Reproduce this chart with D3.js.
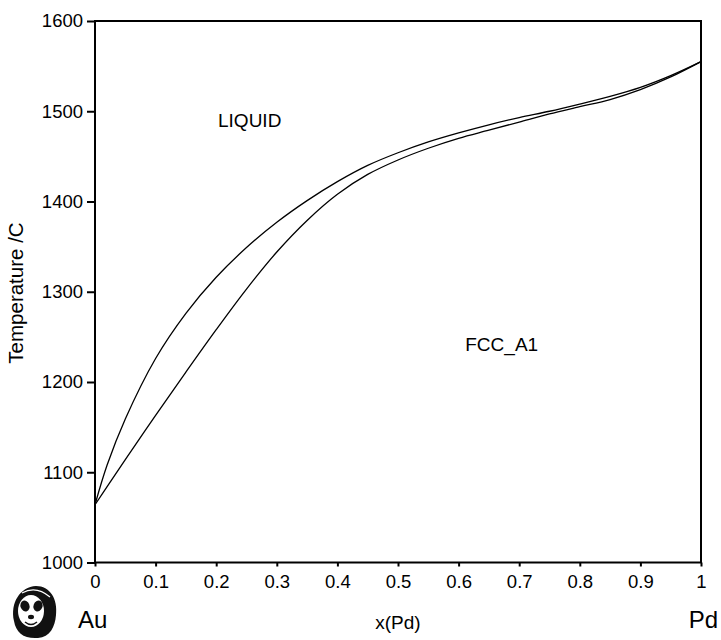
<!DOCTYPE html>
<html>
<head>
<meta charset="utf-8">
<script src="https://cdn.jsdelivr.net/npm/d3@7/dist/d3.min.js"></script>
<style>
  html, body { margin: 0; padding: 0; background: #fff; }
  svg { display: block; font-family: "Liberation Sans", Arial, sans-serif; }
</style>
</head>
<body>
<svg id="chart" width="721" height="640"></svg>
<script>
// Au–Pd phase diagram: liquidus and solidus (mole fraction Pd vs temperature)
const xPd = [0, 0.02, 0.05, 0.1, 0.15, 0.2, 0.25, 0.3, 0.35, 0.4, 0.45, 0.5,
             0.55, 0.6, 0.65, 0.7, 0.75, 0.8, 0.85, 0.9, 0.95, 1.0];
const liquidus = [1064, 1108, 1159, 1226, 1276, 1316, 1349, 1377, 1401, 1422, 1440, 1454,
                  1466, 1476, 1485, 1493, 1500, 1508, 1516.5, 1526.5, 1539.5, 1555];
const solidus  = [1064, 1084, 1114, 1163, 1211, 1258, 1303, 1344, 1379, 1408, 1430, 1446,
                  1459, 1470, 1479, 1488, 1497, 1505, 1513, 1524, 1538, 1555];
const xTicks = [0, 0.1, 0.2, 0.3, 0.4, 0.5, 0.6, 0.7, 0.8, 0.9, 1];
const yTicks = [1000, 1100, 1200, 1300, 1400, 1500, 1600];
const phaseLabels = [
  { text: "LIQUID", x: 0.203, t: 1483 },
  { text: "FCC_A1", x: 0.611, t: 1234 }
];

const svg = d3.select("#chart");
const plot = { left: 95, right: 701, top: 21, bottom: 562.5 };

const x = d3.scaleLinear().domain([0, 1]).range([plot.left, plot.right]);
const y = d3.scaleLinear().domain([1000, 1600]).range([plot.bottom, plot.top]);

// frame
svg.append("rect")
  .attr("x", plot.left).attr("y", plot.top)
  .attr("width", plot.right - plot.left).attr("height", plot.bottom - plot.top)
  .attr("fill", "none").attr("stroke", "#000").attr("stroke-width", 2);

// axes
const xAxis = d3.axisBottom(x).tickValues(xTicks)
  .tickFormat(d => String(d)).tickSize(4).tickPadding(8);
const gx = svg.append("g").attr("transform", `translate(0,${plot.bottom})`).call(xAxis);
gx.select(".domain").remove();
gx.selectAll(".tick line").attr("stroke-width", 2);
gx.selectAll("text").attr("font-size", 18.5).attr("fill", "#000")
  .attr("font-family", "Liberation Sans, Arial, sans-serif");

const yAxis = d3.axisLeft(y).tickValues(yTicks).tickFormat(d3.format("d"))
  .tickSize(8).tickPadding(4);
const gy = svg.append("g").attr("transform", `translate(${plot.left},0)`).call(yAxis);
gy.select(".domain").remove();
gy.selectAll(".tick line").attr("stroke-width", 2);
gy.selectAll("text").attr("font-size", 18.5).attr("fill", "#000")
  .attr("font-family", "Liberation Sans, Arial, sans-serif");

// phase boundaries
const line = d3.line().curve(d3.curveCatmullRom.alpha(0.5))
  .x(d => x(d[0])).y(d => y(d[1]));
[liquidus, solidus].forEach(series => {
  svg.append("path")
    .datum(xPd.map((v, i) => [v, series[i]]))
    .attr("d", line)
    .attr("fill", "none").attr("stroke", "#000").attr("stroke-width", 1.3);
});

// phase region labels
svg.selectAll("text.phase").data(phaseLabels).enter().append("text")
  .attr("class", "phase")
  .attr("x", d => x(d.x)).attr("y", d => y(d.t))
  .attr("font-size", 19).attr("fill", "#000")
  .text(d => d.text);

// axis titles and components
svg.append("text").attr("x", 398).attr("y", 629)
  .attr("text-anchor", "middle").attr("font-size", 19).text("x(Pd)");
svg.append("text")
  .attr("transform", "translate(23,293) rotate(-90)")
  .attr("text-anchor", "middle").attr("font-size", 20.5).text("Temperature /C");
svg.append("text").attr("x", 78).attr("y", 628)
  .attr("font-size", 24).text("Au");
svg.append("text").attr("x", 718).attr("y", 628)
  .attr("text-anchor", "end").attr("font-size", 24).text("Pd");

// panda logo
const logo = svg.append("g").attr("transform", "translate(34,611)");
logo.append("path")
  .attr("d", "M-20,10 C-24,-8 -14,-24 2,-25 C16,-25 24,-12 22,4 C21,16 16,26 4,27 C-10,28 -18,22 -20,10 Z")
  .attr("fill", "#111");
logo.append("ellipse").attr("rx", 13).attr("ry", 16).attr("cx", -3).attr("cy", 0)
  .attr("fill", "#fff");
logo.append("ellipse").attr("rx", 4.5).attr("ry", 5.5).attr("cx", -9).attr("cy", -5)
  .attr("fill", "#111").attr("transform", "rotate(-20,-9,-5)");
logo.append("ellipse").attr("rx", 4.5).attr("ry", 5.5).attr("cx", 4).attr("cy", -5)
  .attr("fill", "#111").attr("transform", "rotate(20,4,-5)");
logo.append("ellipse").attr("rx", 3).attr("ry", 2.2).attr("cx", -3).attr("cy", 6)
  .attr("fill", "#111");
logo.append("path").attr("d", "M-9,11 Q-3,16 3,11").attr("fill", "none")
  .attr("stroke", "#111").attr("stroke-width", 1.5);
logo.append("path").attr("d", "M-12,-18 Q2,-26 16,-14").attr("fill", "none")
  .attr("stroke", "#fff").attr("stroke-width", 1.2);
</script>
</body>
</html>
